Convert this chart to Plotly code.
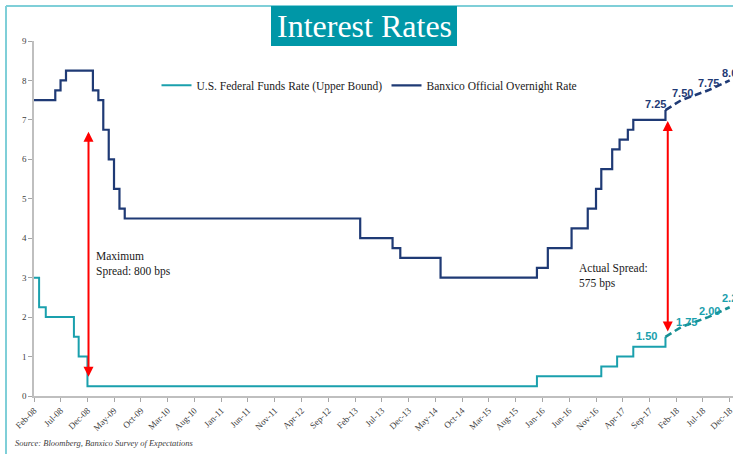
import plotly.graph_objects as go
import pandas as pd

# U.S. Fed funds target (upper bound), value from the date of each change
fed_dates = ["2008-02-01", "2008-03-01", "2008-04-08", "2008-09-15", "2008-10-12", "2008-12-01",
             "2015-12-01", "2016-12-01", "2017-03-01", "2017-06-01", "2017-12-01"]
fed_rates = [3.00, 2.25, 2.00, 1.50, 1.00, 0.25, 0.50, 0.75, 1.00, 1.25, 1.50]

# Banxico overnight rate, value from the date of each change
banxico_dates = ["2008-02-01", "2008-06-01", "2008-07-01", "2008-08-01", "2009-01-01", "2009-02-01",
                 "2009-03-01", "2009-04-01", "2009-05-01", "2009-06-01", "2009-07-01", "2013-03-01",
                 "2013-09-01", "2013-10-15", "2014-06-01", "2015-12-01", "2016-02-01", "2016-06-15",
                 "2016-09-15", "2016-11-01", "2016-12-01", "2017-02-01", "2017-03-15", "2017-05-01",
                 "2017-06-01", "2017-12-01"]
banxico_rates = [7.50, 7.75, 8.00, 8.25, 7.75, 7.50, 6.75, 6.00, 5.25, 4.75, 4.50, 4.00,
                 3.75, 3.50, 3.00, 3.25, 3.75, 4.25, 4.75, 5.25, 5.75, 6.25, 6.50, 6.75,
                 7.00, 7.25]

# Banxico survey of expectations for 2018
fcst_dates = ["2017-12-01", "2018-03-01", "2018-08-01", "2018-12-01"]
fed_fcst = [1.50, 1.75, 2.00, 2.25]
banxico_fcst = [7.25, 7.50, 7.75, 8.00]

# spread arrows: date, lower end, upper end
spread_dates = ["2008-12-07", "2017-12-14"]
spread_low = [0.45, 1.60]
spread_high = [6.70, 6.97]
spread_text = ["Maximum<br>Spread: 800 bps", "Actual Spread:<br>575 bps"]

tick_labels = ["Feb-08", "Jul-08", "Dec-08", "May-09", "Oct-09", "Mar-10", "Aug-10", "Jan-11",
               "Jun-11", "Nov-11", "Apr-12", "Sep-12", "Feb-13", "Jul-13", "Dec-13", "May-14",
               "Oct-14", "Mar-15", "Aug-15", "Jan-16", "Jun-16", "Nov-16", "Apr-17", "Sep-17",
               "Feb-18", "Jul-18", "Dec-18"]

TEAL = "#1AA0AD"
TEAL_DARK = "#178F93"
NAVY = "#1F3A75"
SERIF = "Liberation Serif, Times New Roman, serif"
SANS = "Liberation Sans, Arial, sans-serif"

W, H = 733, 454
L, R, T, B = 34, 0, 41, 58

fig = go.Figure()

fig.add_trace(go.Scatter(
    x=fed_dates, y=fed_rates, mode="lines", line_shape="hv",
    line=dict(color=TEAL, width=2), name="U.S. Federal Funds Rate (Upper Bound)"
))
fig.add_trace(go.Scatter(
    x=banxico_dates, y=banxico_rates, mode="lines", line_shape="hv",
    line=dict(color=NAVY, width=2.2), name="Banxico Official Overnight Rate"
))
fig.add_trace(go.Scatter(
    x=fcst_dates, y=fed_fcst, mode="lines", showlegend=False,
    line=dict(color=TEAL_DARK, width=2.6, dash="7px,4px")
))
fig.add_trace(go.Scatter(
    x=fcst_dates, y=banxico_fcst, mode="lines", showlegend=False,
    line=dict(color=NAVY, width=2.6, dash="7px,4px")
))

# value labels on the expectation paths
fed_shift = [(-19, 1), (5, 5), (1, 6), (3, 9)]
banx_shift = [(-10, 6), (1, 7), (0, 7), (3, 7)]
for d, v, s in zip(fcst_dates, fed_fcst, fed_shift):
    fig.add_annotation(x=d, y=v, text=f"<b>{v:.2f}</b>", showarrow=False, xshift=s[0], yshift=s[1],
                       font=dict(family=SANS, size=11, color=TEAL), xanchor="center", yanchor="middle")
for d, v, s in zip(fcst_dates, banxico_fcst, banx_shift):
    fig.add_annotation(x=d, y=v, text=f"<b>{v:.2f}</b>", showarrow=False, xshift=s[0], yshift=s[1],
                       font=dict(family=SANS, size=11, color=NAVY), xanchor="center", yanchor="middle")

# spread arrows (double headed) and their notes
for d, lo, hi in zip(spread_dates, spread_low, spread_high):
    fig.add_annotation(x=d, y=hi, ax=d, ay=lo, axref="x", ayref="y", text="",
                       showarrow=True, arrowside="end+start", arrowhead=2, startarrowhead=2,
                       arrowsize=1, startarrowsize=1, arrowwidth=2, arrowcolor="#FF0000")

fig.add_annotation(x="2009-01-06", y=3.35, text=spread_text[0], showarrow=False, align="left",
                   xanchor="left", yanchor="middle", font=dict(family=SERIF, size=11.5, color="#1a1a1a"))
fig.add_annotation(x="2016-07-16", y=3.03, text=spread_text[1], showarrow=False, align="left",
                   xanchor="left", yanchor="middle", font=dict(family=SERIF, size=11.5, color="#1a1a1a"))

# frame, title box and source
pw, ph = W - L - R, H - T - B
px = lambda v: (v - L) / pw
py = lambda v: (H - B - v) / ph
fig.add_shape(type="line", xref="paper", yref="paper", x0=px(6), x1=px(W), y0=py(6), y1=py(6),
              line=dict(color="#7FCFD8", width=2), layer="below")
fig.add_shape(type="line", xref="paper", yref="paper", x0=px(6), x1=px(6), y0=py(6), y1=py(H),
              line=dict(color="#7FCFD8", width=2), layer="below")
fig.add_shape(type="rect", xref="paper", yref="paper", x0=px(271), x1=px(457), y0=py(46), y1=py(6),
              fillcolor="#0097A7", line=dict(width=0))
fig.add_annotation(xref="paper", yref="paper", x=px(364), y=py(26), text="Interest Rates",
                   showarrow=False, xanchor="center", yanchor="middle",
                   font=dict(family=SERIF, size=32, color="white"))
fig.add_annotation(xref="paper", yref="paper", x=px(13), y=py(443),
                   text="<i>Source: Bloomberg, Banxico Survey of Expectations</i>",
                   showarrow=False, xanchor="left", yanchor="middle",
                   font=dict(family=SERIF, size=8.5, color="#404040"))

fig.update_xaxes(
    type="date", range=["2008-02-01", "2018-12-20"],
    tickvals=pd.to_datetime(tick_labels, format="%b-%y"), ticktext=tick_labels,
    tickangle=-45, ticks="outside", ticklen=4, tickcolor="#A6A6A6", ticklabeloverflow="allow",
    showline=True, linecolor="#BFBFBF", linewidth=1.5, showgrid=False, zeroline=False,
    tickfont=dict(family=SERIF, size=9, color="#404040"), automargin=False
)
fig.update_yaxes(
    range=[0, 9], dtick=1, ticks="outside", ticklen=4, tickcolor="#A6A6A6",
    showline=True, linecolor="#BFBFBF", linewidth=1.5, showgrid=False, zeroline=False,
    tickfont=dict(family=SERIF, size=9, color="#404040"), automargin=False
)

fig.update_layout(
    width=W, height=H, autosize=False,
    margin=dict(l=L, r=R, t=T, b=B),
    paper_bgcolor="white", plot_bgcolor="white",
    showlegend=True,
    legend=dict(orientation="h", x=px(156.5), xanchor="left", y=py(85.3), yanchor="middle",
                entrywidth=185, entrywidthmode="pixels",
                font=dict(family=SERIF, size=11.5, color="#1a1a1a"), bgcolor="rgba(0,0,0,0)"),
)

# page body has a default 8px margin; drop it so the figure sits at the window origin
fig.write_html("out.html", config={"displayModeBar": False},
               post_script="document.body.style.margin='0';")
